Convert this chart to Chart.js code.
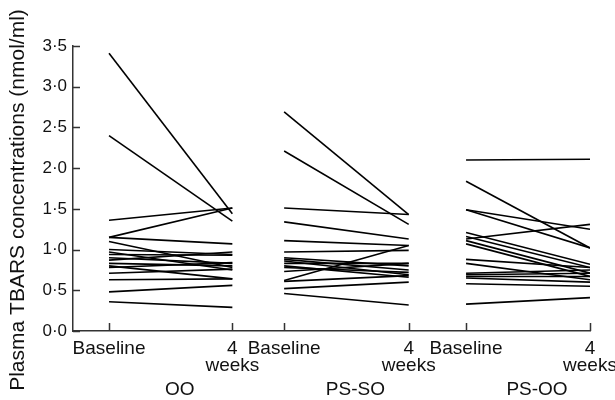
<!DOCTYPE html>
<html><head><meta charset="utf-8">
<script src="https://cdn.jsdelivr.net/npm/chart.js@4/dist/chart.umd.min.js"></script>
<style>html,body{margin:0;padding:0;background:#fff}#wrap{width:615px;height:400px}</style>
</head><body><div id="wrap"><canvas id="c" width="615" height="400"></canvas></div>
<script>
// ---- data ----
const groups = ['OO', 'PS-SO', 'PS-OO'];
const timeLabels = ['Baseline', ['4', 'weeks']];
const yTickLabels = ['0·0', '0·5', '1·0', '1·5', '2·0', '2·5', '3·0', '3·5'];
const yTitle = 'Plasma TBARS concentrations (nmol/ml)';

const ooBaseline = [3.41, 2.40, 1.36, 1.15, 1.15, 1.10, 1.00, 0.97, 0.94, 0.90, 0.87, 0.83, 0.80, 0.78, 0.71, 0.63, 0.48, 0.36];
const ooWeek4    = [1.44, 1.35, 1.51, 1.51, 1.07, 0.78, 0.94, 0.75, 0.93, 0.83, 0.97, 0.80, 0.64, 0.84, 0.76, 0.64, 0.56, 0.29];

const psSoBaseline = [2.69, 2.21, 1.51, 1.34, 1.11, 0.97, 0.90, 0.88, 0.86, 0.83, 0.80, 0.78, 0.73, 0.62, 0.61, 0.52, 0.46];
const psSoWeek4    = [1.43, 1.31, 1.43, 1.13, 1.05, 0.99, 0.80, 0.75, 0.69, 0.83, 0.66, 0.72, 0.83, 1.05, 0.68, 0.60, 0.32];

const psOoBaseline = [2.10, 1.84, 1.49, 1.49, 1.21, 1.16, 1.13, 1.11, 1.07, 0.88, 0.83, 0.71, 0.69, 0.67, 0.65, 0.58, 0.33];
const psOoWeek4    = [2.11, 1.02, 1.25, 1.02, 0.82, 0.78, 1.31, 0.71, 0.67, 0.78, 0.63, 0.75, 0.71, 0.67, 0.60, 0.55, 0.41];

// ---- layout (x positions of the six time points on a linear axis) ----
const tickPos = [0, 1, 1.42, 2.43, 2.895, 3.9];
const groupData = [[ooBaseline, ooWeek4], [psSoBaseline, psSoWeek4], [psOoBaseline, psOoWeek4]];

const datasets = [];
groupData.forEach((g, gi) => {
  g[0].forEach((b, i) => {
    datasets.push({
      label: groups[gi] + ' ' + (i + 1),
      data: [{x: tickPos[gi * 2], y: b}, {x: tickPos[gi * 2 + 1], y: g[1][i]}],
      borderColor: '#000', borderWidth: 1.6, pointRadius: 0, tension: 0, fill: false
    });
  });
});

const FONT = '"Liberation Sans", Arial, sans-serif';

const decor = {
  id: 'decor',
  afterDraw(chart) {
    const ctx = chart.ctx, xs = chart.scales.x, ys = chart.scales.y;
    const a = chart.chartArea;
    ctx.save();
    ctx.strokeStyle = '#333'; ctx.lineWidth = 1.5;
    ctx.beginPath();
    xs.ticks.forEach(t => { const p = Math.round(xs.getPixelForValue(t.value)) + 0.5; ctx.moveTo(p, a.bottom); ctx.lineTo(p, a.bottom - 8); });
    ys.ticks.forEach(t => { const p = Math.round(ys.getPixelForValue(t.value)) + 0.5; ctx.moveTo(a.left, p); ctx.lineTo(a.left + 7, p); });
    ctx.stroke();
    ctx.fillStyle = '#111';
    ctx.font = '19px ' + FONT;
    ctx.textAlign = 'center'; ctx.textBaseline = 'middle';
    groups.forEach((g, gi) => {
      const mid = (tickPos[gi * 2] + tickPos[gi * 2 + 1]) / 2;
      ctx.fillText(g, xs.getPixelForValue(mid) + 9, 390);
    });
    ctx.translate(18, 200);
    ctx.rotate(-Math.PI / 2);
    ctx.font = '21px ' + FONT;
    ctx.fillText(yTitle, 0, 0);
    ctx.restore();
  }
};

new Chart(document.getElementById('c'), {
  type: 'line',
  data: {datasets},
  options: {
    responsive: false, animation: false, devicePixelRatio: 1,
    layout: {padding: {left: 0, right: 25, top: 46, bottom: 0}},
    plugins: {legend: {display: false}, tooltip: {enabled: false}},
    scales: {
      x: {
        type: 'linear', min: -0.292, max: 3.9,
        afterBuildTicks: s => { s.ticks = tickPos.map(v => ({value: v})); },
        afterFit: s => { s.height = 69; s.paddingLeft = 0; s.paddingRight = 0; },
        grid: {drawOnChartArea: false, drawTicks: false},
        border: {display: true, color: '#333', width: 1.5},
        ticks: {
          autoSkip: false, maxRotation: 0, minRotation: 0, padding: 9,
          color: '#111', font: {family: FONT, size: 19, lineHeight: 0.9},
          callback: (v, i) => timeLabels[i % 2]
        }
      },
      y: {
        min: 0, max: 3.5,
        afterFit: s => { s.width = 73; s.paddingTop = 0; s.paddingBottom = 0; },
        grid: {drawOnChartArea: false, drawTicks: false},
        border: {display: true, color: '#333', width: 1.5},
        ticks: {
          stepSize: 0.5, padding: 6, color: '#111', font: {family: FONT, size: 17},
          callback: (v, i) => yTickLabels[i]
        }
      }
    }
  },
  plugins: [decor]
});
</script></body></html>
